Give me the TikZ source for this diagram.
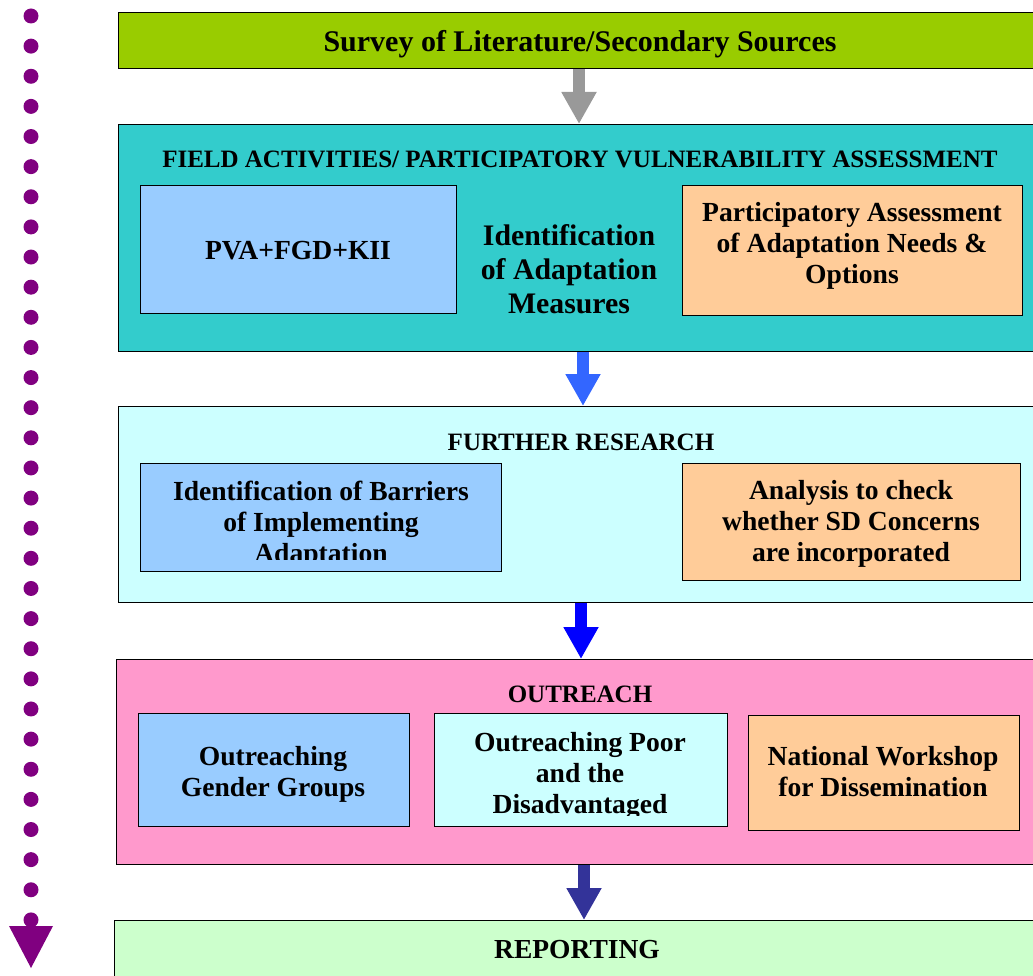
\documentclass[tikz,border=0pt]{standalone}
\usepackage{fontspec}
\setmainfont{Liberation Serif}
\usetikzlibrary{arrows.meta}
\definecolor{cSurvey}{HTML}{99CC00}
\definecolor{cField}{HTML}{33CCCC}
\definecolor{cBlueBox}{HTML}{99CCFF}
\definecolor{cOrange}{HTML}{FFCC99}
\definecolor{cCyan}{HTML}{CCFFFF}
\definecolor{cPink}{HTML}{FF99CC}
\definecolor{cReport}{HTML}{CCFFCC}
\definecolor{cPurple}{HTML}{800080}
\definecolor{cGrayArr}{HTML}{999999}
\definecolor{cBlueA}{HTML}{3366FF}
\definecolor{cBlueB}{HTML}{0000FF}
\definecolor{cNavy}{HTML}{333399}
\begin{document}
\begin{tikzpicture}[x=1pt,y=-1pt,
  box/.style={draw=black,line width=1.3pt,inner sep=0pt,anchor=north west},
  txt/.style={font=\bfseries\fontsize{27.6}{31}\selectfont,align=center,inner sep=0pt},
  head/.style={font=\bfseries\fontsize{25}{28}\selectfont,inner sep=0pt},
  flow/.style={line width=12pt,-{Triangle[width=33pt,length=32pt]}},
  dot/.style={circle,fill=cPurple,minimum size=15pt,inner sep=0pt}
]
\useasboundingbox (0,0) rectangle (1033,976);
\clip (0,0) rectangle (1033,976);
% big boxes
\node[box,fill=cSurvey,minimum width=930pt,minimum height=56pt] (survey) at (118,12) {};
\node[box,fill=cField,minimum width=930pt,minimum height=227pt] (field) at (118,124) {};
\node[box,fill=cCyan,minimum width=930pt,minimum height=196pt] (further) at (118,406) {};
\node[box,fill=cPink,minimum width=930pt,minimum height=205pt] (outreach) at (116,659) {};
\node[box,fill=cReport,minimum width=930pt,minimum height=80pt] (report) at (114,920) {};
% inner boxes
\node[box,fill=cBlueBox,minimum width=316pt,minimum height=128pt] (pva) at (140,185) {};
\node[box,fill=cOrange,minimum width=340pt,minimum height=130pt] (part) at (682,185) {};
\node[box,fill=cBlueBox,minimum width=361pt,minimum height=108pt] (barr) at (140,463) {};
\node[box,fill=cOrange,minimum width=338pt,minimum height=117pt] (anal) at (682,463) {};
\node[box,fill=cBlueBox,minimum width=271pt,minimum height=113pt] (gender) at (138,713) {};
\node[box,fill=cCyan,minimum width=293pt,minimum height=113pt] (poor) at (434,713) {};
\node[box,fill=cOrange,minimum width=271pt,minimum height=115pt] (natl) at (748,715) {};
% texts
\node[txt,font=\bfseries\fontsize{30}{34}\selectfont] (tsurvey) at (580,44) {Survey of Literature/Secondary Sources};
\node[head] (tfield) at (580,159) {FIELD ACTIVITIES/ PARTICIPATORY VULNERABILITY ASSESSMENT};
\node[txt] (tpva) at (298,251) {PVA+FGD+KII};
\node[txt,font=\bfseries\fontsize{29.8}{34}\selectfont] (tident) at (569,269) {Identification\\of Adaptation\\Measures};
\node[txt] (tpart) at (852,246) {Participatory Assessment\\of Adaptation Needs \&\\Options};
\node[head] (tfurther) at (581,442) {FURTHER RESEARCH};
\begin{scope}
\clip (140,463) rectangle (501,559);
\node[txt] (tbarr) at (321,525) {Identification of Barriers\\of Implementing\\Adaptation};
\end{scope}
\node[txt] (tanal) at (851,524) {Analysis to check\\whether SD Concerns\\are incorporated};
\node[head] (tout) at (580,694) {OUTREACH};
\node[txt] (tgender) at (273,774) {Outreaching\\Gender Groups};
\begin{scope}
\clip (434,713) rectangle (727,815);
\node[txt] (tpoor) at (580,776) {Outreaching Poor\\and the\\Disadvantaged};
\end{scope}
\node[txt] (tnatl) at (883,772) {National Workshop\\for Dissemination};
\node[head,font=\bfseries\fontsize{27.5}{30}\selectfont] (trep) at (577,950) {REPORTING};
% arrows
\draw[flow,cGrayArr] (survey.south -| 579,0) -- (field.north -| 579,0);
\draw[flow,cBlueA] (field.south -| 583,0) -- (further.north -| 583,0);
\draw[flow,cBlueB] (further.south -| 581,0) -- (outreach.north -| 581,0);
\draw[flow,cNavy] (outreach.south -| 584,0) -- (report.north -| 584,0);
% dotted timeline
\foreach \i in {0,...,30} {
  \node[dot] (d\i) at (31,{16+30.13*\i}) {};
}
\coordinate (tip) at (31,968);
\fill[cPurple] (9,926) -- (53,926) -- (tip) -- cycle;
\end{tikzpicture}
\end{document}
